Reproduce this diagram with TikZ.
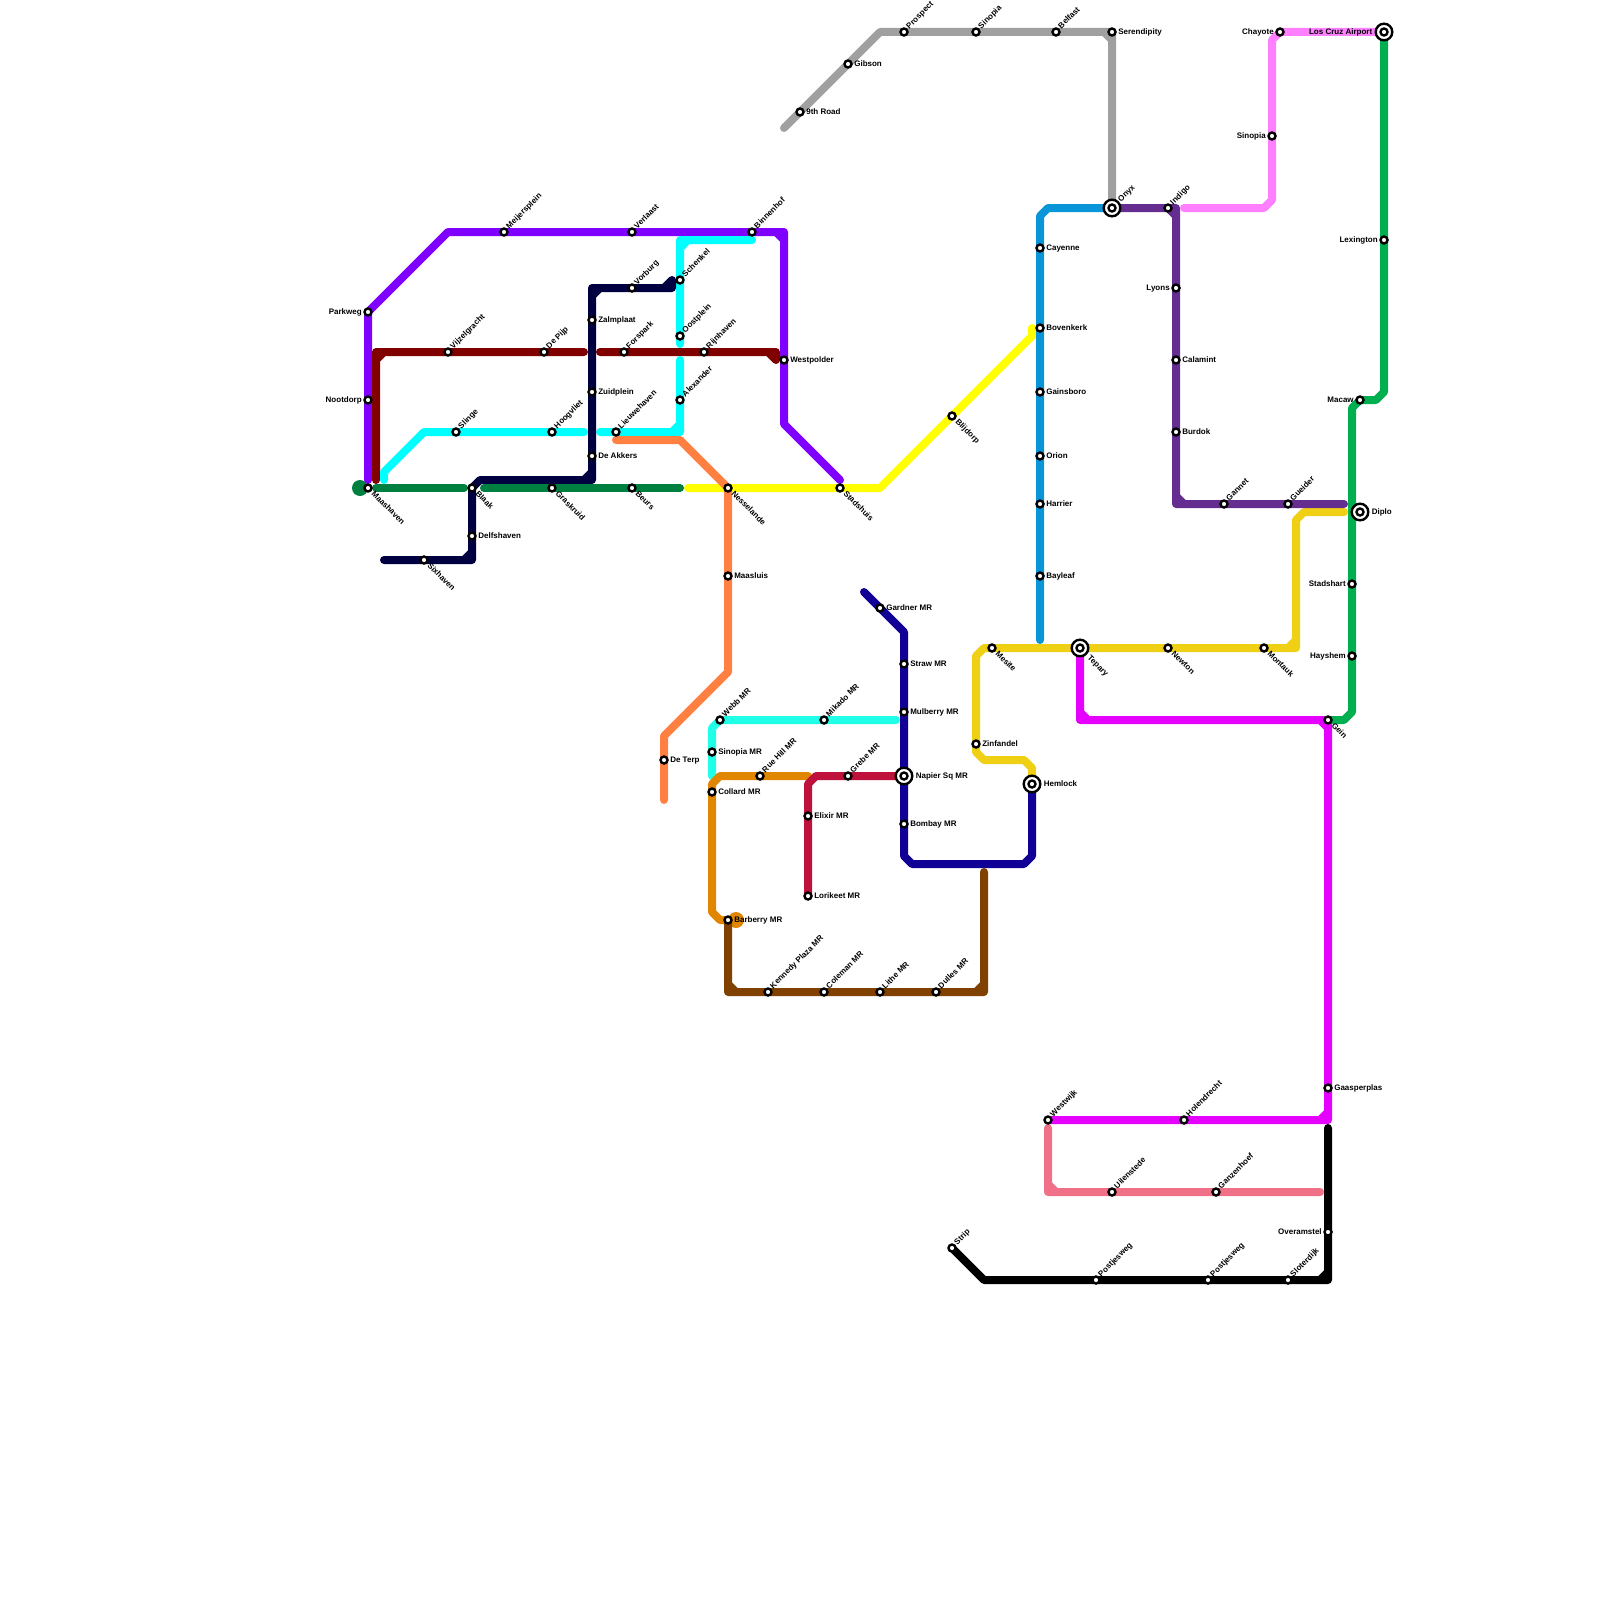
\documentclass[tikz,border=0pt]{standalone}
\usepackage{fontspec}
\setmainfont{Liberation Sans}
\usetikzlibrary{positioning}
\definecolor{violetL}{RGB}{128,0,255}
\definecolor{maroonL}{RGB}{128,0,0}
\definecolor{cyanL}{RGB}{0,255,255}
\definecolor{inkL}{RGB}{0,0,64}
\definecolor{forestL}{RGB}{0,128,64}
\definecolor{yellowL}{RGB}{255,255,0}
\definecolor{orangeL}{RGB}{255,128,64}
\definecolor{aquaL}{RGB}{32,255,232}
\definecolor{amberL}{RGB}{224,134,0}
\definecolor{crimsonL}{RGB}{190,18,60}
\definecolor{indigoL}{RGB}{16,0,150}
\definecolor{brownL}{RGB}{128,64,0}
\definecolor{goldL}{RGB}{240,208,20}
\definecolor{skyL}{RGB}{8,150,216}
\definecolor{greyL}{RGB}{160,160,160}
\definecolor{plumL}{RGB}{102,45,145}
\definecolor{pinkL}{RGB}{255,128,255}
\definecolor{greenL}{RGB}{0,176,80}
\definecolor{magentaL}{RGB}{230,0,255}
\definecolor{roseL}{RGB}{240,112,136}
\pgfdeclarelayer{lines}
\pgfsetlayers{lines,main}

\begin{document}
\begin{tikzpicture}[x=1pt,y=-1pt,
metro/.style={line width=8pt,line cap=round,line join=round},
lbl/.style={font=\fontsize{8}{9}\selectfont\bfseries,inner sep=0pt,outer sep=0pt},
stn/.style={circle,draw=black,fill=white,line width=2.4pt,minimum size=7pt,inner sep=0pt,outer sep=0pt},
hub/.style={circle,draw=black,fill=white,line width=2.4pt,minimum size=16.6pt,inner sep=0pt,outer sep=0pt,
path picture={\draw[line width=2.4pt,fill=white] (path picture bounding box.center) circle (3.5pt);}},
lblE/.style={label={[lbl,anchor=base west,label distance=2.8pt,yshift=-2.5pt]0:#1}},
lblW/.style={label={[lbl,anchor=base east,label distance=2.8pt,yshift=-2.5pt]180:#1}},
lblNE/.style={label={[lbl,anchor=base west,rotate=45,xshift=3.5pt,yshift=0.7pt]0:#1}},
lblSE/.style={label={[lbl,anchor=base west,rotate=-45,xshift=4.2pt,yshift=-4.7pt]0:#1}},
hubE/.style={label={[lbl,anchor=base west,label distance=3.5pt,yshift=-2.5pt]0:#1}},
hubW/.style={label={[lbl,anchor=base east,label distance=3.5pt,yshift=-2.5pt]180:#1}},
hubNE/.style={label={[lbl,anchor=base west,rotate=45,xshift=4.7pt,yshift=3.5pt]0:#1}},
hubSE/.style={label={[lbl,anchor=base west,rotate=-45,xshift=6.6pt,yshift=-8.2pt]0:#1}}]
\useasboundingbox (0,0) rectangle (1600,1600);

% violet and maroon
\node[stn,lblW=Parkweg] (parkweg) at (368,312) {};
\node[stn,lblW=Nootdorp] (nootdorp) at (368,400) {};
\node[stn,lblSE=Maashaven] (maashaven) at (368,488) {};
\node[stn,lblNE=Meijersplein] (meijersplein) at (504,232) {};
\node[stn,lblNE=Verlaast] (verlaast) at (632,232) {};
\node[stn,lblNE=Binnenhof] (binnenhof) at (752,232) {};
\node[stn,lblE=Westpolder] (westpolder) at (784,360) {};
\node[stn,lblSE=Stadshuis] (stadshuis) at (840,488) {};
\node[stn,lblNE=Vijzelgracht] (vijzelgracht) at (448,352) {};
\node[stn,lblNE=De Pijp] (depijp) at (544,352) {};
\node[stn,lblNE=Forspark] (forspark) at (624,352) {};
\node[stn,lblNE=Rijnhaven] (rijnhaven) at (704,352) {};
% cyan and ink
\node[stn,lblNE=Slinge] (slinge) at (456,432) {};
\node[stn,lblNE=Hoogvliet] (hoogvliet) at (552,432) {};
\node[stn,lblNE=Lieuwehaven] (lieuwehaven) at (616,432) {};
\node[stn,lblNE=Schenkel] (schenkel) at (680,280) {};
\node[stn,lblNE=Oostplein] (oostplein) at (680,336) {};
\node[stn,lblNE=Alexander] (alexander) at (680,400) {};
\node[stn,lblE=Zalmplaat] (zalmplaat) at (592,320) {};
\node[stn,lblE=Zuidplein] (zuidplein) at (592,392) {};
\node[stn,lblE=De Akkers] (deakkers) at (592,456) {};
\node[stn,lblNE=Vorburg] (vorburg) at (632,288) {};
\node[stn,lblSE=Blaak] (blaak) at (472,488) {};
\node[stn,lblE=Delfshaven] (delfshaven) at (472,536) {};
\node[stn,lblSE=Sixhaven] (sixhaven) at (424,560) {};
\node[stn,lblSE=Graskruid] (graskruid) at (552,488) {};
\node[stn,lblSE=Beurs] (beurs) at (632,488) {};
% orange and yellow
\node[stn,lblSE=Nesselande] (nesselande) at (728,488) {};
\node[stn,lblE=Maasluis] (maasluis) at (728,576) {};
\node[stn,lblE=De Terp] (deterp) at (664,760) {};
\node[stn,lblSE=Blijdorp] (blijdorp) at (952,416) {};
% MR lines
\node[stn,lblNE=Webb MR] (webb) at (720,720) {};
\node[stn,lblNE=Mikado MR] (mikado) at (824,720) {};
\node[stn,lblE=Sinopia MR] (sinopiamr) at (712,752) {};
\node[stn,lblE=Collard MR] (collard) at (712,792) {};
\node[stn,lblNE=Rue Hill MR] (ruehill) at (760,776) {};
\node[stn,lblE=Barberry MR] (barberry) at (728,920) {};
\node[stn,lblNE=Grebe MR] (grebe) at (848,776) {};
\node[stn,lblE=Elixir MR] (elixir) at (808,816) {};
\node[stn,lblE=Lorikeet MR] (lorikeet) at (808,896) {};
\node[stn,lblE=Gardner MR] (gardner) at (880,608) {};
\node[stn,lblE=Straw MR] (straw) at (904,664) {};
\node[stn,lblE=Mulberry MR] (mulberry) at (904,712) {};
\node[hub,hubE=Napier Sq MR] (napier) at (904,776) {};
\node[stn,lblE=Bombay MR] (bombay) at (904,824) {};
\node[hub,hubE=Hemlock] (hemlock) at (1032,784) {};
\node[stn,lblNE=Kennedy Plaza MR] (kennedy) at (768,992) {};
\node[stn,lblNE=Coleman MR] (coleman) at (824,992) {};
\node[stn,lblNE=Lithe MR] (lithe) at (880,992) {};
\node[stn,lblNE=Dulles MR] (dulles) at (936,992) {};
% gold and magenta
\node[stn,lblSE=Mesite] (mesite) at (992,648) {};
\node[stn,lblE=Zinfandel] (zinfandel) at (976,744) {};
\node[hub,hubSE=Tepary] (tepary) at (1080,648) {};
\node[stn,lblSE=Newton] (newton) at (1168,648) {};
\node[stn,lblSE=Montauk] (montauk) at (1264,648) {};
\node[stn,lblSE=Gein] (gein) at (1328,720) {};
\node[stn,lblE=Gaasperplas] (gaasperplas) at (1328,1088) {};
\node[stn,lblNE=Westwijk] (westwijk) at (1048,1120) {};
\node[stn,lblNE=Holendrecht] (holendrecht) at (1184,1120) {};
\node[stn,lblNE=Uilenstede] (uilenstede) at (1112,1192) {};
\node[stn,lblNE=Ganzenhoef] (ganzenhoef) at (1216,1192) {};
% black
\node[stn,lblNE=Strip] (strip) at (952,1248) {};
\node[stn,lblNE=Postjesweg] (postjesweg) at (1096,1280) {};
\node[stn,lblNE=Postjesweg] (postjeswegB) at (1208,1280) {};
\node[stn,lblNE=Sloterdijk] (sloterdijk) at (1288,1280) {};
\node[stn,lblW=Overamstel] (overamstel) at (1328,1232) {};
% grey, sky, plum
\node[stn,lblE=9th Road] (ninth) at (800,112) {};
\node[stn,lblE=Gibson] (gibson) at (848,64) {};
\node[stn,lblNE=Prospect] (prospect) at (904,32) {};
\node[stn,lblNE=Sinopia] (sinopia) at (976,32) {};
\node[stn,lblNE=Belfast] (belfast) at (1056,32) {};
\node[stn,lblE=Serendipity] (serendipity) at (1112,32) {};
\node[hub,hubNE=Onyx] (onyx) at (1112,208) {};
\node[stn,lblE=Cayenne] (cayenne) at (1040,248) {};
\node[stn,lblE=Bovenkerk] (bovenkerk) at (1040,328) {};
\node[stn,lblE=Gainsboro] (gainsboro) at (1040,392) {};
\node[stn,lblE=Orion] (orion) at (1040,456) {};
\node[stn,lblE=Harrier] (harrier) at (1040,504) {};
\node[stn,lblE=Bayleaf] (bayleaf) at (1040,576) {};
\node[stn,lblNE=Indigo] (indigo) at (1168,208) {};
\node[stn,lblW=Lyons] (lyons) at (1176,288) {};
\node[stn,lblE=Calamint] (calamint) at (1176,360) {};
\node[stn,lblE=Burdok] (burdok) at (1176,432) {};
\node[stn,lblNE=Gannet] (gannet) at (1224,504) {};
\node[stn,lblNE=Gueider] (gueider) at (1288,504) {};
% pink and green
\node[stn,lblW=Chayote] (chayote) at (1280,32) {};
\node[stn,lblW=Sinopia] (sinopiaB) at (1272,136) {};
\node[hub,hubW=Los Cruz Airport] (loscruz) at (1384,32) {};
\node[stn,lblW=Lexington] (lexington) at (1384,240) {};
\node[stn,lblW=Macaw] (macaw) at (1360,400) {};
\node[hub,hubE=Diplo] (diplo) at (1360,512) {};
\node[stn,lblW=Stadshart] (stadshart) at (1352,584) {};
\node[stn,lblW=Hayshem] (hayshem) at (1352,656) {};

% free line ends
\coordinate (violetA) at (368,480);
\coordinate (violetB) at (840,480);
\coordinate (maroonA) at (376,480);
\coordinate (maroonB) at (584,352);
\coordinate (maroonC) at (600,352);
\coordinate (maroonD) at (776,360);
\coordinate (cyanA) at (752,240);
\coordinate (cyanB) at (680,344);
\coordinate (cyanC) at (384,480);
\coordinate (cyanD) at (584,432);
\coordinate (cyanE) at (600,432);
\coordinate (cyanF) at (680,360);
\coordinate (inkA) at (384,560);
\coordinate (inkB) at (672,280);
\coordinate (forestA) at (376,488);
\coordinate (forestB) at (464,488);
\coordinate (forestC) at (484,488);
\coordinate (forestD) at (680,488);
\coordinate (yellowA) at (688,488);
\coordinate (yellowB) at (1032,328);
\coordinate (orangeA) at (616,440);
\coordinate (orangeB) at (664,800);
\coordinate (aquaA) at (712,776);
\coordinate (aquaB) at (896,720);
\coordinate (amberA) at (808,776);
\coordinate (indigoA) at (864,592);
\coordinate (brownA) at (984,872);
\coordinate (goldA) at (1344,512);
\coordinate (skyA) at (1040,640);
\coordinate (greyA) at (784,128);
\coordinate (plumA) at (1344,504);
\coordinate (pinkA) at (1184,208);
\coordinate (roseA) at (1048,1128);
\coordinate (roseB) at (1320,1192);
\coordinate (blackA) at (1328,1128);

\begin{pgfonlayer}{lines}
\fill[forestL] (360,488) circle (8pt);
\fill[amberL] (736,920) circle (8pt);
\draw[metro,yellowL] (yellowA)--(880,488)--(blijdorp.center)--(1032,336)--(yellowB);
\draw[metro,violetL] (violetA)--(parkweg.center)--(448,232)--(binnenhof.center)--(784,232)--(westpolder.center)--(784,424)--(violetB) (776,232)--(784,240);
\draw[metro,maroonL] (maroonA)--(376,352)--(maroonB) (376,360)--(384,352);
\draw[metro,maroonL] (maroonC)--(776,352)--(maroonD) (768,352)--(maroonD);
\draw[metro,cyanL] (cyanA)--(680,240)--(cyanB) (680,248)--(688,240);
\draw[metro,cyanL] (cyanC)--(384,472)--(424,432)--(cyanD);
\draw[metro,cyanL] (cyanE)--(680,432)--(cyanF) (672,432)--(680,424);
\draw[metro,inkL] (inkA)--(472,560)--(blaak.center)--(480,480)--(592,480)--(592,288)--(672,288)--(inkB) (464,560)--(472,552) (584,480)--(592,472) (592,296)--(600,288) (664,288)--(inkB);
\draw[metro,forestL] (forestA)--(forestB);
\draw[metro,forestL] (forestC)--(forestD);
\draw[metro,orangeL] (orangeA)--(680,440)--(nesselande.center)--(728,672)--(664,736)--(orangeB);
\draw[metro,aquaL] (aquaA)--(712,728)--(webb.center)--(aquaB);
\draw[metro,amberL] (amberA)--(720,776)--(712,784)--(712,912)--(720,920)--(barberry.center);
\draw[metro,crimsonL] (napier.center)--(816,776)--(808,784)--(lorikeet.center);
\draw[metro,indigoL] (indigoA)--(904,632)--(904,856)--(912,864)--(1024,864)--(1032,856)--(hemlock.center);
\draw[metro,brownL] (barberry.center)--(728,992)--(984,992)--(brownA) (728,984)--(736,992) (976,992)--(984,984);
\draw[metro,goldL] (hemlock.center)--(1032,768)--(1024,760)--(984,760)--(976,752)--(976,656)--(984,648)--(1296,648)--(1296,520)--(1304,512)--(goldA) (1288,648)--(1296,640);
\draw[metro,skyL] (skyA)--(1040,216)--(1048,208)--(onyx.center);
\draw[metro,greyL] (greyA)--(880,32)--(1112,32)--(onyx.center) (1104,32)--(1112,40);
\draw[metro,plumL] (onyx.center)--(1176,208)--(1176,504)--(plumA) (1168,208)--(1176,216) (1176,496)--(1184,504);
\draw[metro,pinkL] (pinkA)--(1264,208)--(1272,200)--(1272,40)--(chayote.center)--(loscruz.center);
\draw[metro,greenL] (loscruz.center)--(1384,392)--(1376,400)--(macaw.center)--(1352,408)--(1352,712)--(1344,720)--(gein.center);
\draw[metro,magentaL] (tepary.center)--(1080,720)--(1328,720)--(1328,1120)--(westwijk.center) (1080,712)--(1088,720) (1320,720)--(1328,728) (1320,1120)--(1328,1112);
\draw[metro,roseL] (roseA)--(1048,1192)--(roseB) (1048,1184)--(1056,1192);
\draw[metro,black] (strip.center)--(984,1280)--(1328,1280)--(blackA) (1320,1280)--(1328,1272);
\end{pgfonlayer}
\end{tikzpicture}
\end{document}
